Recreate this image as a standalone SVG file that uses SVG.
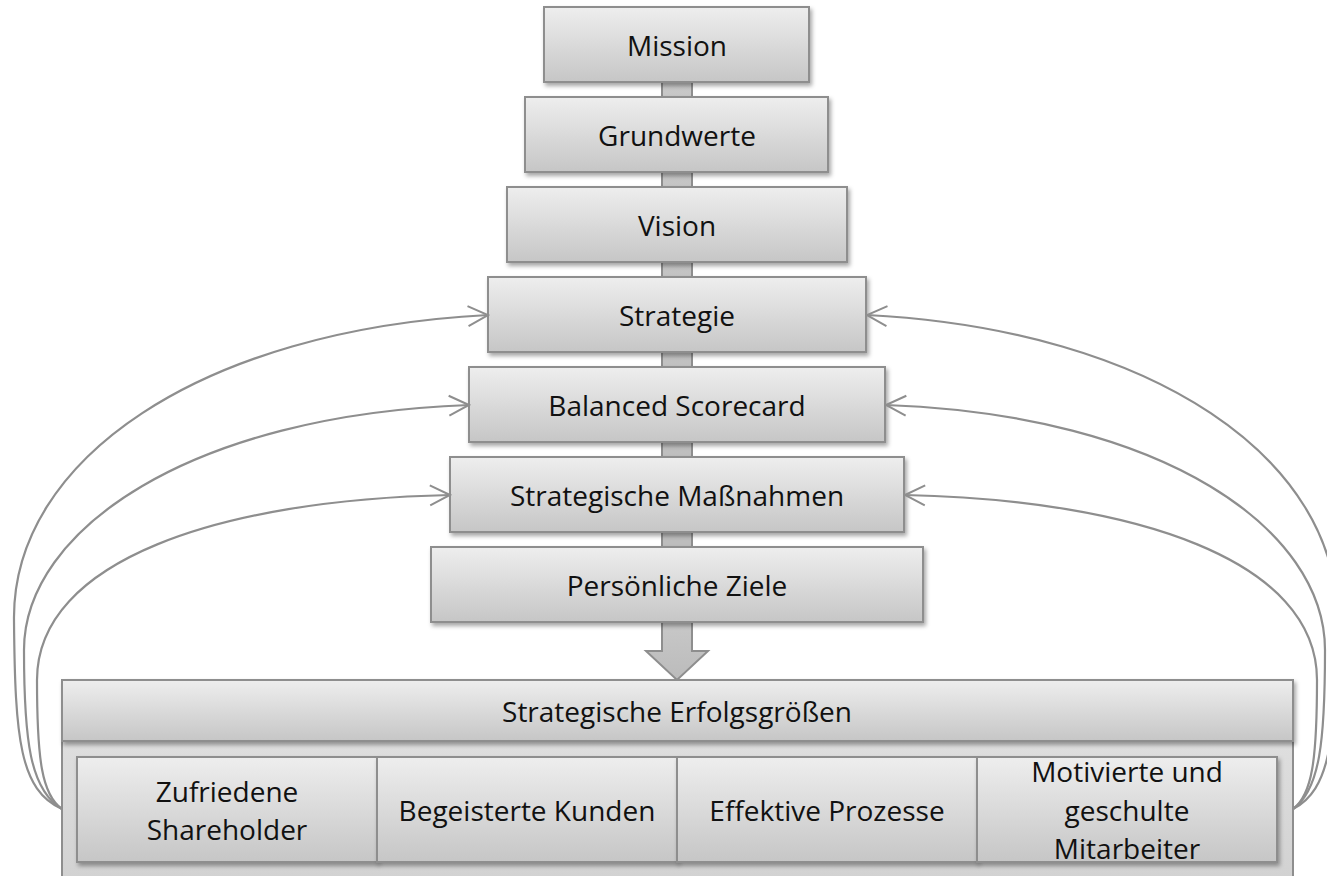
<svg xmlns="http://www.w3.org/2000/svg" width="1327" height="876" viewBox="0 0 1327 876">
<defs>
<linearGradient id="g" x1="0" y1="0" x2="0" y2="1">
<stop offset="0" stop-color="#eeeeee"/>
<stop offset="1" stop-color="#c6c6c6"/>
</linearGradient>
<linearGradient id="gb" x1="0" y1="0" x2="0" y2="1">
<stop offset="0" stop-color="#e4e4e4"/>
<stop offset="1" stop-color="#d0d0d0"/>
</linearGradient>
<linearGradient id="ga" x1="0" y1="0" x2="0" y2="1">
<stop offset="0" stop-color="#c8c8c8"/>
<stop offset="1" stop-color="#bbbbbb"/>
</linearGradient>
<filter id="sh" x="-5%" y="-10%" width="115%" height="130%">
<feDropShadow dx="2" dy="3" stdDeviation="2" flood-color="#000" flood-opacity="0.35"/>
</filter>
<marker id="ah" markerWidth="24" markerHeight="24" viewBox="-22 -12 24 24" refX="0" refY="0" orient="auto" markerUnits="userSpaceOnUse">
<path d="M-20,-10 L0,0 L-20,10" fill="none" stroke="#8e8e8e" stroke-width="2"/>
</marker>
<style>
.box{fill:url(#g);stroke:#8e8e8e;stroke-width:2;filter:url(#sh)}
.t{font-family:"Open Sans","Liberation Sans",sans-serif;font-size:28px;fill:#111;text-anchor:middle}
.c{fill:none;stroke:#8e8e8e;stroke-width:2.2;marker-end:url(#ah)}
</style>
</defs>
<rect width="1327" height="876" fill="#ffffff"/>

<g id="bar">
<rect x="662" y="70" width="30" height="560" fill="url(#ga)" stroke="#8e8e8e" stroke-width="2"/>
<polygon points="662,622 692,622 692,651 708,651 677,680 646,651 662,651" fill="url(#ga)" stroke="#8e8e8e" stroke-width="2"/>
</g>

<g id="mission"><rect class="box" x="544" y="7" width="265" height="75"/><text class="t" x="677" y="56">Mission</text></g>
<g id="grundwerte"><rect class="box" x="525" y="97" width="303" height="75"/><text class="t" x="677" y="146">Grundwerte</text></g>
<g id="vision"><rect class="box" x="507" y="187" width="340" height="75"/><text class="t" x="677" y="236">Vision</text></g>
<g id="strategie"><rect class="box" x="488" y="277" width="378" height="75"/><text class="t" x="677" y="326">Strategie</text></g>
<g id="bsc"><rect class="box" x="469" y="367" width="416" height="75"/><text class="t" x="677" y="416">Balanced Scorecard</text></g>
<g id="massnahmen"><rect class="box" x="450" y="457" width="454" height="75"/><text class="t" x="677" y="506">Strategische Maßnahmen</text></g>
<g id="ziele"><rect class="box" x="431" y="547" width="492" height="75"/><text class="t" x="677" y="596">Persönliche Ziele</text></g>

<g id="erfolgsgroessen">
<rect x="62" y="680" width="1231" height="220" fill="url(#gb)" stroke="#8e8e8e" stroke-width="2"/>
<rect class="box" x="62" y="680" width="1231" height="61"/>
<text class="t" x="677" y="722">Strategische Erfolgsgrößen</text>
</g>
<g id="shareholder"><rect class="box" x="77" y="757" width="300" height="105"/><text class="t" x="227" y="802">Zufriedene</text><text class="t" x="227" y="840">Shareholder</text></g>
<g id="kunden"><rect class="box" x="377" y="757" width="300" height="105"/><text class="t" x="527" y="821">Begeisterte Kunden</text></g>
<g id="prozesse"><rect class="box" x="677" y="757" width="300" height="105"/><text class="t" x="827" y="821">Effektive Prozesse</text></g>
<g id="mitarbeiter"><rect class="box" x="977" y="757" width="300" height="105"/><text class="t" x="1127" y="782">Motivierte und</text><text class="t" x="1127" y="821">geschulte</text><text class="t" x="1127" y="859">Mitarbeiter</text></g>

<g id="connectors">
<path class="c" d="M62,809 C20,790 15,740 14,620 C12,460 200,330 488,315"/>
<path class="c" d="M62,809 C30,790 24,740 24,650 C24,530 190,415 469,405"/>
<path class="c" d="M62,809 C42,795 37,760 37,680 C37,560 220,500 450,495"/>
<path class="c" d="M1293,809 C1330,790 1336,740 1337,620 C1339,460 1155,330 867,315"/>
<path class="c" d="M1293,809 C1320,790 1325,740 1325,650 C1325,530 1165,415 886,405"/>
<path class="c" d="M1293,809 C1312,795 1317,760 1317,680 C1317,560 1135,500 905,495"/>
</g>
</svg>
